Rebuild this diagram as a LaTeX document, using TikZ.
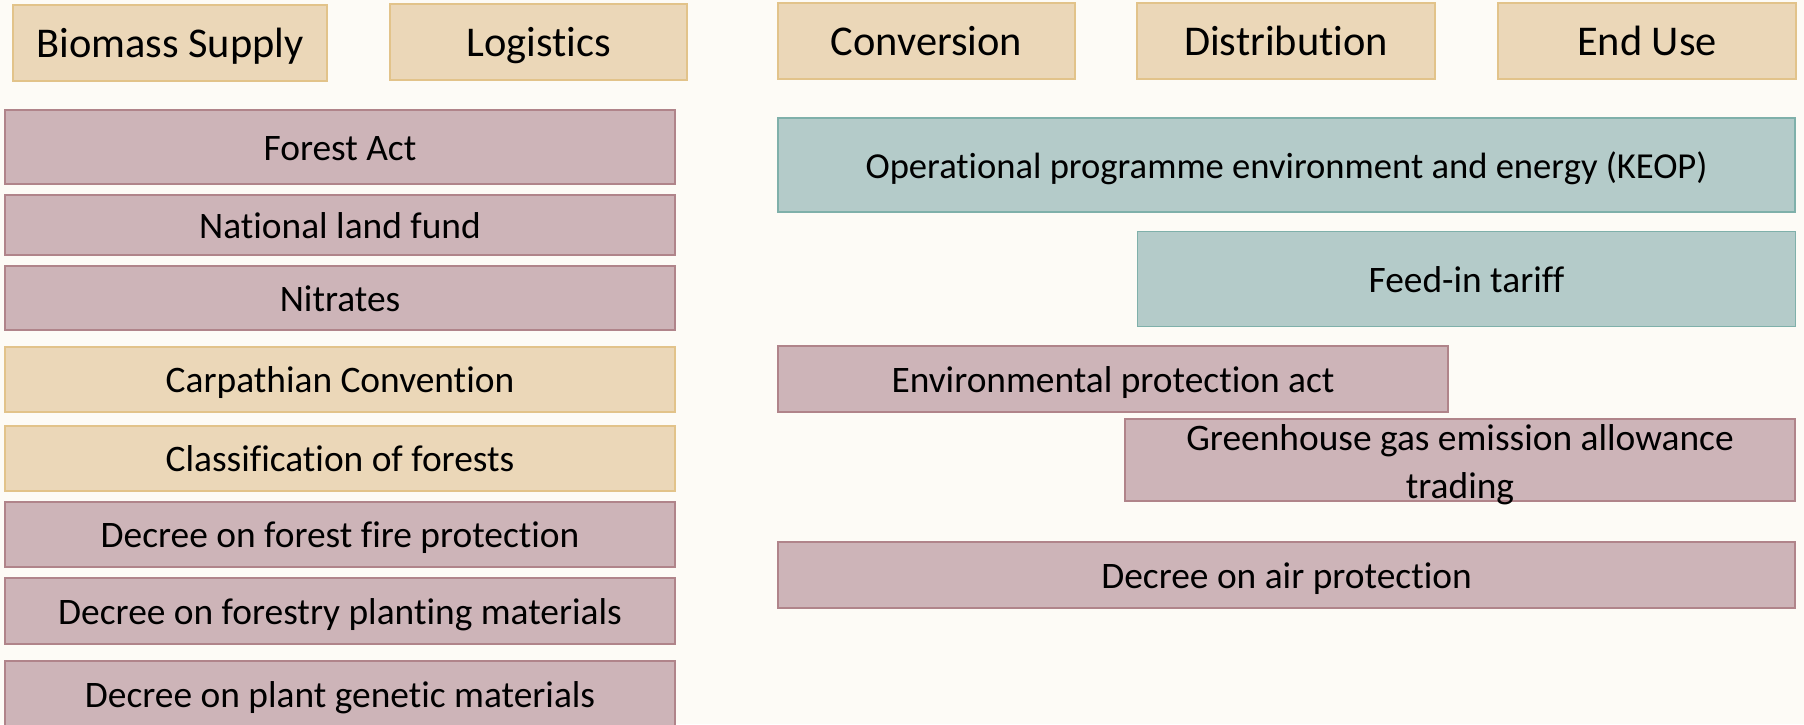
\documentclass[tikz,border=0pt]{standalone}
\usepackage{fontspec}
\setmainfont{Carlito}[Ligatures=NoCommon]
\definecolor{bgcream}{HTML}{FDFBF6}
\definecolor{tanfill}{HTML}{EBD7B8}
\definecolor{tanline}{HTML}{E2C38A}
\definecolor{mauvefill}{HTML}{CDB4B8}
\definecolor{mauveline}{HTML}{B0848A}
\definecolor{tealfill}{HTML}{B4CBC9}
\definecolor{tealline}{HTML}{7FB0AA}
\tikzset{
  basebox/.style={rectangle, inner sep=0pt, line width=0.8pt, align=center,
    font=\fontsize{18.7pt}{23pt}\selectfont, text=black,
    text height=17.5pt, text depth=4.2pt},
  headfont/.style={font=\fontsize{21.2pt}{25pt}\selectfont,
    text height=19.5pt, text depth=4.7pt},
  tanbox/.style={basebox, fill=tanfill, draw=tanline},
  mauvebox/.style={basebox, fill=mauvefill, draw=mauveline},
  tealbox/.style={basebox, fill=tealfill, draw=tealline},
}
\begin{document}
\begin{tikzpicture}[x=0.5pt,y=-0.5pt]
\fill[bgcream] (0,0) rectangle (1804,724);
\useasboundingbox (0,0) rectangle (1804,724);
% header row
\node[tanbox, headfont, minimum width=157pt, minimum height=38pt] (bs) at (170,43) {Biomass Supply};
\node[tanbox, headfont, minimum width=148.5pt, minimum height=38pt] (log) at (538.5,42) {Logistics};
\node[tanbox, headfont, minimum width=148.5pt, minimum height=38pt] (conv) at (926.5,41) {Conversion};
\node[tanbox, headfont, minimum width=149pt, minimum height=38pt] (dist) at (1286,41) {Distribution};
\node[tanbox, headfont, minimum width=149pt, minimum height=38pt] (enduse) at (1647,41) {End Use};
% left column
\node[mauvebox, minimum width=335pt, minimum height=37pt] (forest) at (340,147) {Forest Act};
\node[mauvebox, minimum width=335pt, minimum height=30pt] (natl) at (340,225) {National land fund};
\node[mauvebox, minimum width=335pt, minimum height=32pt] (nitr) at (340,298) {Nitrates};
\node[tanbox, minimum width=335pt, minimum height=32.5pt] (carp) at (340,379.5) {Carpathian Convention};
\node[tanbox, minimum width=335pt, minimum height=32.5pt] (class) at (340,458.5) {Classification of forests};
\node[mauvebox, minimum width=335pt, minimum height=32.5pt] (fire) at (340,534.5) {Decree on forest fire protection};
\node[mauvebox, minimum width=335pt, minimum height=33pt] (plant) at (340,611) {Decree on forestry planting materials};
\node[mauvebox, minimum width=335pt, minimum height=33pt] (genetic) at (340,694) {Decree on plant genetic materials};
% right column
\node[tealbox, font=\fontsize{18.3pt}{23pt}\selectfont, text height=17.2pt, text depth=4.2pt, minimum width=508.5pt, minimum height=47pt] (keop) at (1286.5,165) {Operational programme environment and energy (KEOP)};
\node[tealbox, minimum width=329pt, minimum height=47.5pt] (feed) at (1466.5,279) {Feed-in tariff};
\node[mauvebox, minimum width=335pt, minimum height=33pt] (env) at (1113,379) {Environmental protection act};
\node[mauvebox, font=\fontsize{18.7pt}{24pt}\selectfont, text height=38pt, text depth=0pt, minimum width=335pt, minimum height=41pt] (ghg) at (1460,460) {Greenhouse gas emission allowance\\trading};
\node[mauvebox, minimum width=508.5pt, minimum height=33pt] (air) at (1286.5,575) {Decree on air protection};
\end{tikzpicture}
\end{document}
